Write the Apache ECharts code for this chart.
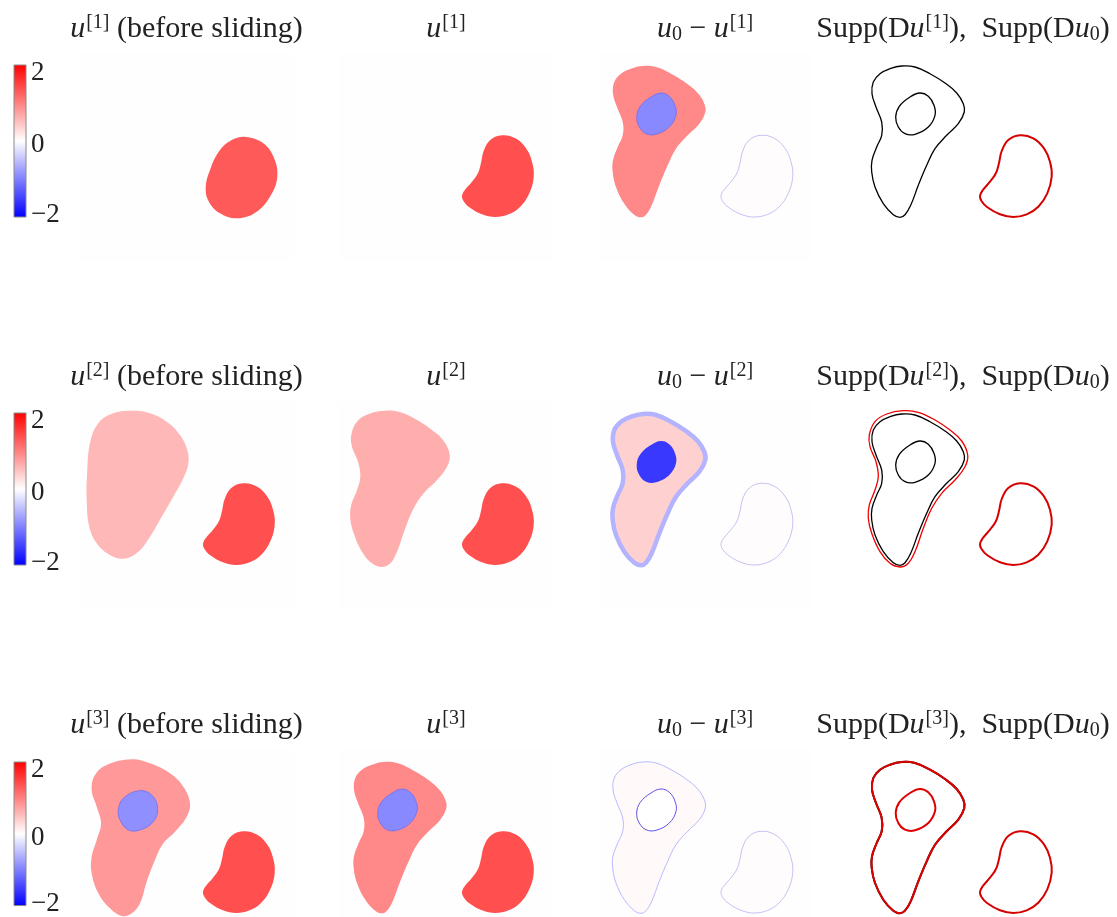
<!DOCTYPE html>
<html>
<head>
<meta charset="utf-8">
<script src="https://cdn.jsdelivr.net/npm/echarts@6/dist/echarts.min.js"></script>
<style>
  html, body { margin: 0; padding: 0; background: #fff; }
  #chart { width: 1117px; height: 917px; }
</style>
</head>
<body>
<div id="chart"></div>
<script>
// level set outlines, in the coordinates of one panel
const supp0 = [[124.7,66],[138,67],[153,73.7],[168,83],[179.7,93],[186.3,103.7],[187.3,112],[181.3,123.7],[169.7,135.3],[158,148.7],[149.7,165.3],[141.3,185.3],[133.7,205.3],[128,214.7],[123,217.3],[116.3,214.7],[106.3,203.7],[98,187],[94.7,172],[95,160.3],[99.7,147],[104.7,135.3],[104.7,122],[99,107],[95,93.7],[96.3,82],[103,73.7],[113,68.7]];
const hole0 = [[143,93],[151.3,96.3],[157,105.3],[158,115.3],[151.3,127],[138,134.3],[128,133.7],[121.3,127],[118.7,117],[122.3,106.3],[133,97]];
const blob0 = [[243,135.3],[256.3,138.3],[267,148.3],[273,161.7],[274.7,176.7],[270.3,193.3],[261.3,206.7],[249.7,214.3],[236.3,217],[223,214.3],[210,207],[204.5,201],[203,196],[205.5,190.5],[213,181.7],[219,173],[222,163],[224.7,151],[231.3,140]];
const oval1 = [[246,137],[263.3,143.3],[274,158],[277.3,176.7],[271,195],[256.7,211.7],[237.3,218.3],[220,213.3],[209,202],[205.7,188.3],[210,170],[220,150],[233.3,139.3]];
const before2 = [[133.3,62.7],[150,65.3],[166.7,73.7],[180,87],[187.3,102],[188.3,115.3],[183.3,130.3],[173.3,148.7],[161.7,168.7],[150,188.7],[138.3,203.7],[123.3,210.7],[108.3,206],[96.7,195.3],[89.3,178.7],[86.7,152],[87.3,122],[90,95.3],[98.3,75.3],[113.3,65.3]];
const after2 = [[126.3,62.7],[141.3,64.3],[158,72],[173,82],[184.7,93],[190.7,107],[188,118.7],[178,132],[164.7,145.3],[154.7,160.3],[146.3,180.3],[138,203.7],[131.3,215.3],[123,219],[113,215.3],[103,203.7],[94.7,185.3],[91.3,170.3],[92.3,157],[98,142],[101.3,128.7],[99,113.7],[93,98.7],[92.3,87],[98,73.7],[109.7,66]];
const before3 = [[131.7,63.3],[150,67.3],[170,77.3],[183.3,90.7],[190,107.3],[186.7,120.7],[175,135.7],[163.3,147.3],[155,164],[146.7,185.7],[140,207.3],[131.7,217.3],[121.7,220],[110,212.3],[98.3,197.3],[91.7,177.3],[91.7,160.7],[96.7,144],[101,127.3],[96.7,110.7],[91.7,94],[95,79],[106.7,69]];
const holeBefore3 = [[139,94.7],[151.7,99],[157.7,112.3],[153.3,125.7],[140,134],[128.3,134],[120,124],[118.3,114],[123.3,102.3]];

const colorbarRange = [-2.09, 2.09];
const colorbarTicks = [-2, 0, 2];
const colorbarColors = ['#0000ff', '#ffffff', '#ff0000'];
const iterations = [1, 2, 3];

// layout
const FONT = '"Liberation Serif", serif';
const colLeft = [80, 339, 598, 857];
const rowTop = [53, 401, 749];
const rowHeight = [208, 208, 168];
const barTop = [65, 413, 762];
const titleCenter = [186.5, 446, 705, 963];
const titleY = [13, 361, 709];

// what goes in each panel: [row, col, outline, fill, stroke, lineWidth]
const layers = [
  [0, 0, oval1, '#ff5a5a'],
  [0, 1, blob0, '#ff4f4f'],
  [0, 2, supp0, '#ff8888'],
  [0, 2, hole0, '#8888ff', '#6a6af0', 0.7],
  [0, 2, blob0, '#fefcfc', '#b8a4ee', 0.7],
  [0, 3, supp0, 'none', '#000', 1.3],
  [0, 3, hole0, 'none', '#000', 1.3],
  [0, 3, blob0, 'none', '#d60000', 2],

  [1, 0, before2, '#ffb8b8'],
  [1, 0, blob0, '#ff4f4f'],
  [1, 1, after2, '#ffaeae'],
  [1, 1, blob0, '#ff4f4f'],
  [1, 2, supp0, '#ffd0d0', '#b3b3ff', 4.5],
  [1, 2, hole0, '#3838ff'],
  [1, 2, blob0, '#fefcfc', '#b8a4ee', 0.7],
  [1, 3, after2, 'none', '#f00000', 1.3],
  [1, 3, supp0, 'none', '#000', 1.3],
  [1, 3, hole0, 'none', '#000', 1.3],
  [1, 3, blob0, 'none', '#d60000', 2],

  [2, 0, before3, '#ff9898'],
  [2, 0, holeBefore3, '#8f8fff', '#6a6af0', 0.7],
  [2, 0, blob0, '#ff4f4f'],
  [2, 1, supp0, '#ff8888'],
  [2, 1, hole0, '#8888ff', '#6a6af0', 0.7],
  [2, 1, blob0, '#ff4f4f'],
  [2, 2, supp0, '#fff9f9', '#a8a8ff', 0.8],
  [2, 2, hole0, '#ffffff', '#5040e0', 0.9],
  [2, 2, blob0, '#fefcfc', '#b8a4ee', 0.7],
  [2, 3, supp0, 'none', '#000', 2],
  [2, 3, supp0, 'none', '#e00000', 2],
  [2, 3, hole0, 'none', '#e00000', 2],
  [2, 3, blob0, 'none', '#d60000', 2]
];

const chart = echarts.init(document.getElementById('chart'));

const grid = [], xAxis = [], yAxis = [], series = [], title = [];

const base = { fontFamily: FONT, fontWeight: 'normal', color: '#222' };
const rich = {
  i: { ...base, fontStyle: 'italic', fontSize: 30 },
  r: { ...base, fontSize: 30 },
  sup: { ...base, fontSize: 20, padding: [0, 0, 13, 1] },
  sub: { ...base, fontSize: 20, padding: [10, 0, 0, 0] }
};

// tick labels sit a little below their ticks
const labelBase = { fontFamily: FONT, fontSize: 27, color: '#222' };
const tickRich = {
  top: { ...labelBase, padding: [10, 0, 0, 0] },
  mid: { ...labelBase, padding: [8, 0, 0, 0] },
  low: { ...labelBase, padding: [2, 0, 0, 0] }
};

function panelTitles(n) {
  const u = `{i|u}{sup|[${n}]}`;
  return [
    `${u}{r| (before sliding)}`,
    u,
    `{i|u}{sub|0}{r| − }${u}`,
    `{r|Supp(D}${u}{r|),  Supp(D}{i|u}{sub|0}{r|)}`
  ];
}

iterations.forEach((n, row) => {
  panelTitles(n).forEach((text, col) => {
    grid.push({
      left: colLeft[col], top: rowTop[row], width: 214, height: rowHeight[row],
      show: col < 3, borderWidth: 0, backgroundColor: '#fefefe'
    });
    xAxis.push({ type: 'value', gridIndex: grid.length - 1, min: 80, max: 294, show: false });
    yAxis.push({ type: 'value', gridIndex: grid.length - 1, min: 53, max: 53 + rowHeight[row], inverse: true, show: false });
    title.push({
      text,
      left: titleCenter[col], top: titleY[row], textAlign: 'center',
      padding: 0,
      textStyle: { fontWeight: 'normal', rich }
    });
  });
});

layers.forEach(([row, col, outline, fill, stroke, lineWidth]) => {
  const idx = row * 4 + col;
  series.push({
    type: 'custom',
    xAxisIndex: idx,
    yAxisIndex: idx,
    silent: true,
    clip: false,
    data: outline,
    renderItem(params, api) {
      if (params.dataIndex !== 0) return null;
      return {
        type: 'polygon',
        shape: { points: outline.map(p => api.coord(p)), smooth: 0.4 },
        style: { fill, stroke: stroke || 'none', lineWidth: lineWidth || 0 }
      };
    }
  });
});

// colorbars, one per row
barTop.forEach(top => {
  grid.push({ left: 14, top, width: 12, height: 152 });
  const idx = grid.length - 1;
  xAxis.push({ type: 'value', gridIndex: idx, min: 0, max: 1, show: false });
  yAxis.push({
    type: 'value',
    gridIndex: idx,
    position: 'right',
    min: colorbarRange[0],
    max: colorbarRange[1],
    splitLine: { show: false },
    axisLine: { show: false },
    axisTick: { show: true, length: 3, customValues: colorbarTicks, lineStyle: { color: '#111', width: 1 } },
    axisLabel: {
      customValues: colorbarTicks,
      margin: 5,
      ...labelBase,
      rich: tickRich,
      formatter: v => v > 0 ? `{top|${v}}` : v < 0 ? `{low|−${-v}}` : `{mid|${v}}`
    }
  });
  series.push({
    type: 'custom',
    xAxisIndex: idx,
    yAxisIndex: idx,
    silent: true,
    data: [[0, colorbarRange[0], 1, colorbarRange[1]]],
    encode: { x: [0, 2], y: [1, 3] },
    renderItem(params, api) {
      const a = api.coord([api.value(0), api.value(1)]);
      const b = api.coord([api.value(2), api.value(3)]);
      return {
        type: 'rect',
        shape: { x: a[0], y: b[1], width: b[0] - a[0], height: a[1] - b[1] },
        style: {
          stroke: '#8a8a8a',
          lineWidth: 1,
          fill: new echarts.graphic.LinearGradient(0, 1, 0, 0,
            colorbarColors.map((color, i) => ({ offset: i / (colorbarColors.length - 1), color })))
        }
      };
    }
  });
});

chart.setOption({
  animation: false,
  backgroundColor: '#fff',
  title, grid, xAxis, yAxis, series
});
</script>
</body>
</html>
